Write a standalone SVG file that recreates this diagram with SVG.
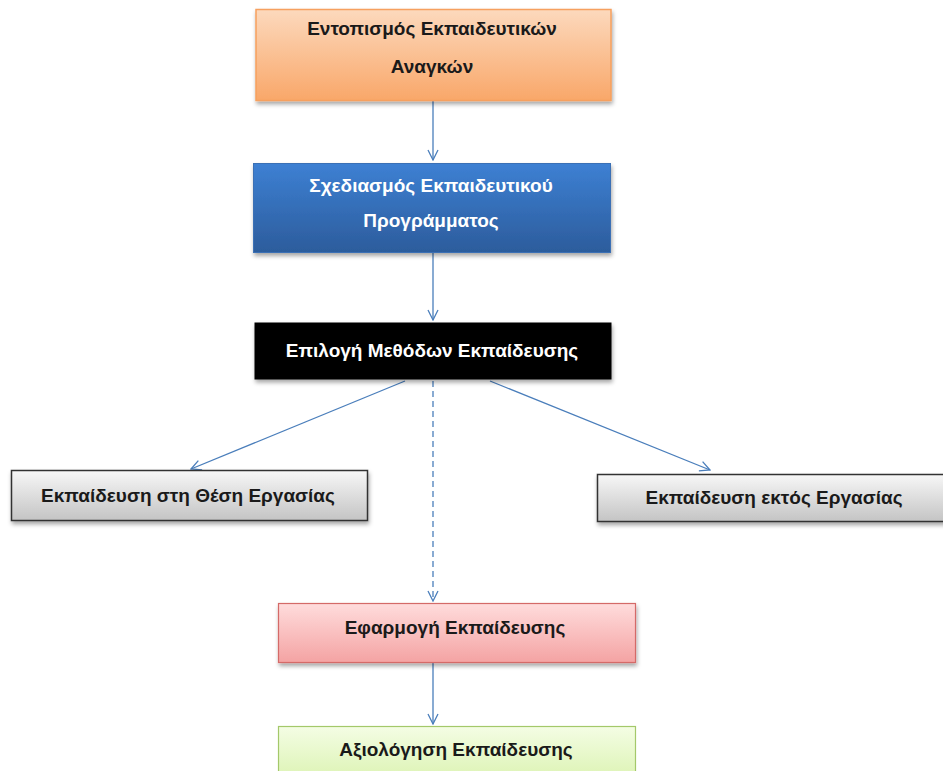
<svg xmlns="http://www.w3.org/2000/svg" width="943" height="771" viewBox="0 0 943 771">
  <defs>
    <linearGradient id="gOrange" x1="0" y1="0" x2="0" y2="1">
      <stop offset="0" stop-color="#fcd9bd"/>
      <stop offset="1" stop-color="#f9a769"/>
    </linearGradient>
    <linearGradient id="gBlue" x1="0" y1="0" x2="0" y2="1">
      <stop offset="0" stop-color="#3d80d3"/>
      <stop offset="1" stop-color="#2c5c9c"/>
    </linearGradient>
    <linearGradient id="gGray" x1="0" y1="0" x2="0" y2="1">
      <stop offset="0" stop-color="#f7f7f7"/>
      <stop offset="1" stop-color="#c4c4c4"/>
    </linearGradient>
    <linearGradient id="gRed" x1="0" y1="0" x2="0" y2="1">
      <stop offset="0" stop-color="#ffdcdc"/>
      <stop offset="1" stop-color="#f4a3a3"/>
    </linearGradient>
    <linearGradient id="gGreen" x1="0" y1="0" x2="0" y2="1">
      <stop offset="0" stop-color="#f4fde4"/>
      <stop offset="1" stop-color="#d9f2ad"/>
    </linearGradient>
    <filter id="shadow" x="-5%" y="-10%" width="112%" height="135%">
      <feDropShadow dx="1" dy="3" stdDeviation="2" flood-color="#000" flood-opacity="0.35"/>
    </filter>
    <marker id="open" viewBox="0 0 12 12" refX="11" refY="6" markerWidth="12" markerHeight="12" markerUnits="userSpaceOnUse" orient="auto">
      <path d="M1,1 L11,6 L1,11" fill="none" stroke="#4a7ebb" stroke-width="1.3"/>
    </marker>
  </defs>
  <style>
    text { font-family: "Liberation Sans", Arial, sans-serif; font-weight: bold; font-size: 19px; text-anchor: middle; }
    .dark { fill: #1a1a1a; }
    .light { fill: #ffffff; }
    .link { fill: none; stroke: #4a7ebb; stroke-width: 1.3; marker-end: url(#open); }
    .dash { stroke-dasharray: 6 4; }
  </style>

  <rect width="943" height="771" fill="#ffffff"/>

  <g id="connectors">
    <line class="link" x1="433" y1="100" x2="433" y2="160"/>
    <line class="link" x1="433" y1="253" x2="433" y2="320"/>
    <line class="link dash" x1="433" y1="381" x2="433" y2="601"/>
    <line class="link" x1="405" y1="381" x2="191" y2="469"/>
    <line class="link" x1="490" y1="381" x2="710" y2="470"/>
    <line class="link" x1="433" y1="663" x2="433" y2="724"/>
  </g>

  <g id="node-needs">
    <rect x="256" y="9.5" width="355" height="91" fill="url(#gOrange)" stroke="#f6a05e" stroke-width="1.5" filter="url(#shadow)"/>
    <text class="dark" x="432" y="35">Εντοπισμός Εκπαιδευτικών</text>
    <text class="dark" x="432" y="73">Αναγκών</text>
  </g>

  <g id="node-design">
    <rect x="253.5" y="163.5" width="357" height="89" fill="url(#gBlue)" stroke="#3a6fb5" stroke-width="1" filter="url(#shadow)"/>
    <text class="light" x="431" y="192">Σχεδιασμός Εκπαιδευτικού</text>
    <text class="light" x="431" y="227">Προγράμματος</text>
  </g>

  <g id="node-methods">
    <rect x="254.5" y="322.5" width="357" height="57" fill="#000000" filter="url(#shadow)"/>
    <text class="light" x="432" y="357">Επιλογή Μεθόδων Εκπαίδευσης</text>
  </g>

  <g id="node-onjob">
    <rect x="11.5" y="470.5" width="356" height="50" fill="url(#gGray)" stroke="#333333" stroke-width="1.5" filter="url(#shadow)"/>
    <text class="dark" x="188" y="502">Εκπαίδευση στη Θέση Εργασίας</text>
  </g>

  <g id="node-offjob">
    <rect x="597.5" y="474.5" width="350" height="47" fill="url(#gGray)" stroke="#333333" stroke-width="1.5" filter="url(#shadow)"/>
    <text class="dark" x="774" y="504">Εκπαίδευση εκτός Εργασίας</text>
  </g>

  <g id="node-delivery">
    <rect x="278.5" y="603.5" width="357" height="59" fill="url(#gRed)" stroke="#d46a68" stroke-width="1.2" filter="url(#shadow)"/>
    <text class="dark" x="455" y="634">Εφαρμογή Εκπαίδευσης</text>
  </g>

  <g id="node-evaluation">
    <rect x="278.5" y="726.5" width="357" height="60" fill="url(#gGreen)" stroke="#a4c86a" stroke-width="1.2"/>
    <text class="dark" x="456" y="756">Αξιολόγηση Εκπαίδευσης</text>
  </g>
</svg>
